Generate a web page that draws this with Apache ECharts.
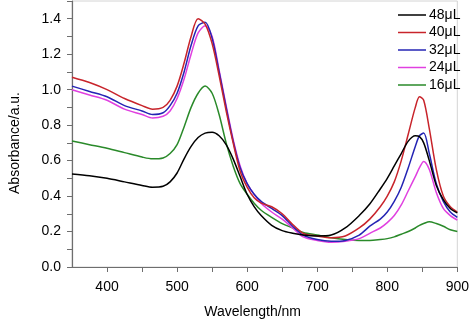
<!DOCTYPE html>
<html>
<head>
<meta charset="utf-8">
<script src="https://cdn.jsdelivr.net/npm/echarts@6/dist/echarts.min.js"></script>
<style>
  html, body { margin: 0; padding: 0; background: #fff; }
  #chart { width: 472px; height: 324px; }
</style>
</head>
<body>
<div id="chart"></div>
<script>
// wavelengths (nm) shared by all spectra
var wavelength = [350, 375, 400, 425, 450, 465, 480, 490, 500, 510, 520, 530, 540, 550, 560, 570, 580, 590, 600, 610, 620, 635, 650, 665, 680, 700, 720, 740, 760, 775, 790, 800, 810, 820, 830, 840, 846, 852, 860, 870, 880, 890, 900];

var seriesNames = ['48μL', '40μL', '32μL', '24μL', '16μL'];
var seriesColors = ['#000000', '#c8242b', '#2424b4', '#e040e0', '#2a8a2a'];

var abs48 = [0.525, 0.515, 0.50, 0.48, 0.46, 0.45, 0.455, 0.48, 0.53, 0.61, 0.68, 0.73, 0.755, 0.76, 0.74, 0.69, 0.61, 0.51, 0.41, 0.34, 0.29, 0.235, 0.205, 0.19, 0.18, 0.175, 0.18, 0.22, 0.29, 0.355, 0.44, 0.50, 0.57, 0.64, 0.71, 0.74, 0.735, 0.70, 0.60, 0.46, 0.38, 0.33, 0.305];
var abs40 = [1.07, 1.04, 1.00, 0.95, 0.91, 0.89, 0.90, 0.94, 1.02, 1.15, 1.30, 1.40, 1.37, 1.26, 1.08, 0.88, 0.70, 0.54, 0.45, 0.39, 0.36, 0.34, 0.30, 0.24, 0.19, 0.175, 0.165, 0.175, 0.22, 0.27, 0.34, 0.40, 0.48, 0.60, 0.75, 0.90, 0.96, 0.94, 0.78, 0.55, 0.40, 0.34, 0.31];
var abs32 = [1.02, 0.99, 0.96, 0.91, 0.88, 0.86, 0.87, 0.91, 0.98, 1.10, 1.25, 1.36, 1.38, 1.29, 1.10, 0.90, 0.71, 0.56, 0.47, 0.41, 0.37, 0.33, 0.29, 0.23, 0.18, 0.155, 0.145, 0.15, 0.18, 0.23, 0.27, 0.31, 0.37, 0.45, 0.56, 0.68, 0.74, 0.755, 0.64, 0.47, 0.37, 0.31, 0.28];
var abs24 = [1.00, 0.97, 0.94, 0.89, 0.86, 0.84, 0.85, 0.88, 0.95, 1.06, 1.20, 1.32, 1.36, 1.30, 1.11, 0.91, 0.72, 0.57, 0.47, 0.41, 0.36, 0.31, 0.27, 0.22, 0.17, 0.15, 0.14, 0.145, 0.16, 0.19, 0.22, 0.25, 0.29, 0.35, 0.43, 0.51, 0.56, 0.595, 0.55, 0.42, 0.33, 0.29, 0.265];
var abs16 = [0.71, 0.69, 0.67, 0.645, 0.62, 0.61, 0.615, 0.64, 0.69, 0.79, 0.90, 0.98, 1.02, 0.98, 0.86, 0.70, 0.57, 0.47, 0.41, 0.36, 0.32, 0.28, 0.245, 0.22, 0.195, 0.18, 0.165, 0.155, 0.15, 0.15, 0.155, 0.16, 0.17, 0.185, 0.20, 0.22, 0.235, 0.245, 0.255, 0.245, 0.23, 0.21, 0.20];

var allValues = [abs48, abs40, abs32, abs24, abs16];

var myChart = echarts.init(document.getElementById('chart'));
var fontName = 'Liberation Sans';

var series = [];
for (var i = 0; i < seriesNames.length; i++) {
  var pts = [];
  for (var j = 0; j < wavelength.length; j++) {
    pts.push([wavelength[j], allValues[i][j]]);
  }
  series.push({
    name: seriesNames[i],
    type: 'line',
    data: pts,
    smooth: 0.3,
    showSymbol: false,
    symbol: 'none',
    lineStyle: { color: seriesColors[i], width: 1.5 },
    itemStyle: { color: seriesColors[i] },
    z: 10 - i
  });
}

var option = {
  animation: false,
  textStyle: { fontFamily: fontName },
  grid: {
    left: 67, right: 13, top: 1, bottom: 56,
    show: true, borderColor: '#d4d4d4', borderWidth: 1
  },
  legend: {
    orient: 'vertical',
    left: 393, top: 3,
    icon: 'rect',
    itemWidth: 28, itemHeight: 1.5, itemGap: 3.5,
    textStyle: { fontSize: 14, color: '#000', fontFamily: fontName, padding: [0, 0, 0, -2] },
    data: seriesNames
  },
  xAxis: {
    type: 'value',
    min: 350, max: 900, interval: 50,
    name: 'Wavelength/nm',
    nameLocation: 'middle',
    nameGap: 38,
    nameTextStyle: { fontSize: 14, color: '#000', padding: [0, 24, 0, 0] },
    axisLine: { lineStyle: { color: '#6e6e6e', width: 1.2 } },
    axisTick: { show: true, length: 5, lineStyle: { color: '#6e6e6e' } },
    axisLabel: {
      fontSize: 14, color: '#000', margin: 13,
      showMinLabel: false,
      formatter: function (v) { return v % 100 === 0 ? String(v) : ''; }
    },
    splitLine: { show: false }
  },
  yAxis: {
    type: 'value',
    min: 0, max: 1.5, interval: 0.1,
    name: 'Absorbance/a.u.',
    nameLocation: 'middle',
    nameGap: 50,
    nameTextStyle: { fontSize: 14, color: '#000', padding: [0, 18, 0, 0] },
    axisLine: { show: true, lineStyle: { color: '#6e6e6e', width: 1.2 } },
    axisTick: { show: true, length: 5, lineStyle: { color: '#6e6e6e' } },
    axisLabel: {
      fontSize: 14, color: '#000', margin: 11,
      formatter: function (v) {
        var k = Math.round(v * 10);
        return (k % 2 === 0 && k <= 14) ? v.toFixed(1) : '';
      }
    },
    splitLine: { show: false }
  },
  series: series
};

myChart.setOption(option);
</script>
</body>
</html>
